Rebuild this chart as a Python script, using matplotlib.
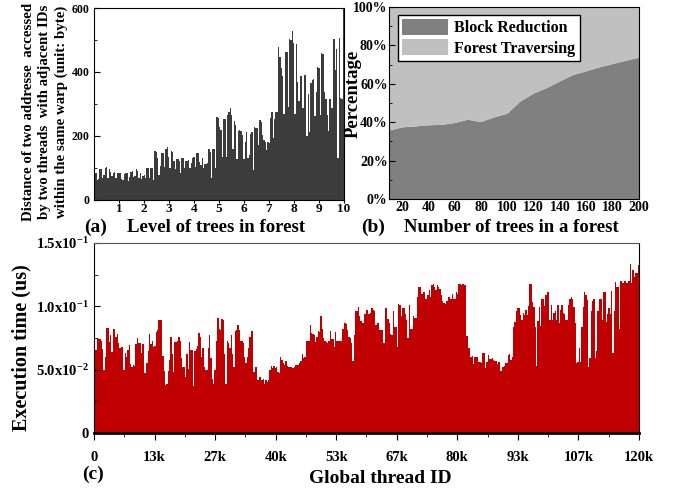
import numpy as np
import matplotlib
matplotlib.use("Agg")
import matplotlib.pyplot as plt
from matplotlib.ticker import MultipleLocator, FixedLocator

plt.rcParams['font.family'] = ['Liberation Serif', 'DejaVu Serif']
plt.rcParams['font.weight'] = 'bold'
plt.rcParams['mathtext.fontset'] = 'custom'
plt.rcParams['mathtext.rm'] = 'Liberation Serif:bold'
plt.rcParams['mathtext.bf'] = 'Liberation Serif:bold'
plt.rcParams['mathtext.default'] = 'bf'

# (a) address distance per thread pair, level 0..10
dist_a = [92, 83, 62, 66, 96, 96, 70, 78, 101, 102, 68, 97, 88, 75, 83, 86, 68, 83, 85, 85,
          66, 62, 80, 83, 83, 59, 73, 88, 91, 71, 76, 96, 92, 70, 83, 66, 76, 78, 70, 101,
          101, 68, 99, 99, 62, 153, 149, 130, 78, 107, 148, 148, 104, 159, 165, 135, 99, 154, 151, 122,
          97, 127, 128, 122, 83, 130, 130, 101, 122, 123, 125, 99, 117, 132, 133, 104, 146, 146, 120, 109,
          130, 101, 111, 111, 115, 158, 151, 68, 158, 158, 99, 260, 255, 229,
          218, 135, 252, 252, 135, 265, 276, 286, 265, 159, 247, 234, 127, 215, 218, 215, 203, 128, 180, 211,
          130, 140, 205, 211, 94, 229, 226, 226, 172, 250, 244, 203, 189, 182, 156, 182, 177, 257, 276, 193,
          252, 274, 274, 479, 447, 411, 388, 270, 463, 463, 291, 502, 501, 527, 492, 270, 486, 369, 309, 387,
          388, 286, 392, 392, 201, 330, 213, 366, 375, 378, 263, 336, 416, 411, 265, 458, 455, 336, 317, 265,
          216, 316, 286, 286, 504, 406, 473, 130, 507, 320, 317, 600]

# (b) share of block reduction vs forest traversing
n_trees = [10, 20, 30, 40, 50, 60, 70, 80, 90, 100, 110, 120, 130, 140, 150, 160, 170, 180, 190, 200]
block_reduction = [35.6, 37.3, 37.8, 38.4, 38.6, 39.6, 41.3, 40.1, 42.5, 44.4, 50.9, 54.9, 57.8, 61.3,
                   64.6, 66.5, 68.6, 70.3, 72.0, 73.6]
forest_traversing = [100 - v for v in block_reduction]

# (c) execution time per thread (x1e-2 us)
exec_c = [5.5, 6.55, 7.4, 7.4, 7.4, 7.3, 6.6, 5.0, 6.0, 8.3, 8.3, 7.2, 7.7, 6.4, 8.2, 8.2, 7.6, 7.8, 7.1, 6.7,
          6.8, 6.8, 5.0, 6.3, 6.0, 6.55, 6.95, 5.45, 5.2, 5.35, 5.3, 7.0, 7.5, 7.1, 7.1, 6.3, 7.0, 4.7, 4.7, 5.5,
          6.5, 7.8, 7.0, 7.3, 6.8, 6.9, 8.0, 8.1, 8.9, 8.9, 8.9, 6.1, 4.9, 3.8, 3.9, 4.9, 5.8, 7.6, 6.2, 4.8,
          7.2, 7.2, 7.3, 7.6, 7.3, 5.9, 5.2, 5.2,
          4.4, 6.2, 5.05, 7.2, 6.55, 6.55, 3.7, 6.5, 6.6, 6.9, 7.9, 7.6, 6.0, 6.7, 5.2, 5.0, 5.0, 6.7, 7.7, 5.9,
          4.3, 3.9, 5.0, 7.3, 9.05, 8.2, 8.1, 9.0, 8.9, 6.2, 3.9, 7.3, 7.1, 6.7, 7.7, 6.2, 5.2, 8.05, 8.1, 8.5,
          8.1, 7.3, 7.3, 7.1, 6.0, 5.55, 6.0, 6.7, 7.6, 8.05, 8.05, 4.85, 5.2, 5.2, 4.2, 4.45, 4.4, 4.2, 4.25, 3.9,
          4.2, 4.0, 4.2, 5.0, 5.3, 5.1, 5.3, 5.1,
          5.2, 4.85, 4.7, 6.0, 5.8, 5.5, 5.4, 5.7, 5.3, 5.2, 5.2, 5.2, 5.1, 5.2, 5.35, 5.35, 5.35, 5.55, 5.7, 6.2,
          5.9, 6.0, 7.3, 7.3, 7.3, 8.5, 7.9, 7.8, 7.7, 7.2, 7.6, 8.05, 8.0, 9.2, 8.2, 7.5, 7.3, 7.2, 7.1, 7.3,
          8.05, 7.4, 7.4, 6.8, 8.0, 7.3, 7.3, 7.3, 7.3, 8.2, 8.25, 8.7, 8.6, 8.1, 7.6, 7.5, 7.1, 5.7, 7.7, 9.6,
          9.6, 9.95, 9.2, 8.85, 8.7, 8.7, 9.4, 9.75,
          9.75, 9.4, 9.45, 9.9, 9.7, 9.6, 8.5, 8.65, 8.65, 8.1, 8.1, 8.1, 7.1, 9.9, 9.9, 9.0, 8.7, 7.8, 7.7, 9.6,
          8.35, 8.35, 6.8, 10.2, 10.1, 9.2, 9.9, 9.9, 9.4, 8.9, 7.5, 10.1, 8.2, 8.2, 9.2, 9.1, 9.05, 10.7, 11.5, 11.5,
          11.0, 11.0, 11.1, 10.6, 10.6, 10.9, 11.3, 10.75, 11.7, 11.75, 11.5, 11.3, 11.7, 11.5, 11.4, 10.9, 10.4, 10.3,
          10.15, 10.4, 10.7, 10.7, 10.55, 11.0, 10.55, 10.55, 11.1, 11.0,
          11.8, 11.75, 11.7, 11.8, 11.7, 11.7, 7.65, 6.75, 6.75, 6.0, 6.1, 5.45, 6.0, 6.0, 6.0, 5.6, 5.6, 5.55, 6.3, 6.3,
          5.15, 5.6, 6.15, 5.85, 5.85, 5.95, 5.75, 5.7, 5.7, 5.45, 5.6, 4.9, 4.9, 5.2, 5.3, 5.5, 5.5, 6.15, 6.25, 5.8,
          6.0, 8.4, 8.8, 9.65, 9.85, 9.85, 9.3, 8.9, 9.5, 9.3, 9.75, 9.3, 10.0, 11.75, 11.75, 10.35, 9.95, 8.35, 5.3, 8.85,
          9.95, 8.45, 10.6, 10.6, 10.05, 10.9, 11.1, 11.15,
          8.9, 10.1, 8.9, 9.45, 9.6, 8.9, 10.1, 8.7, 9.7, 10.1, 9.5, 9.4, 8.9, 8.9, 10.1, 10.6, 10.7, 10.55, 9.95, 8.7,
          5.5, 5.6, 6.75, 5.6, 8.4, 9.95, 11.1, 10.9, 10.5, 5.2, 5.95, 9.65, 10.4, 10.6, 5.95, 6.5, 9.6, 10.6, 10.6, 8.9,
          11.1, 11.1, 8.8, 9.4, 9.85, 9.4, 11.2, 6.3, 9.6, 11.95, 11.55, 11.55, 8.25, 12.0, 11.85, 11.85, 12.0, 11.85,
          11.85, 12.0, 13.35, 11.85, 12.9, 12.3, 12.65, 12.6, 13.25]

c_ticks = [0, 13333, 26667, 40000, 53333, 66667, 80000, 93333, 106667, 120000]
c_ticklabels = ['0', '13k', '27k', '40k', '53k', '67k', '80k', '93k', '107k', '120k']
c_yticklabels = ['0', r'5.0x10$^{-2}$', r'1.0x10$^{-1}$', r'1.5x10$^{-1}$']

fig = plt.figure(figsize=(6.79, 4.88), dpi=100)

# ---- (a)
ax1 = fig.add_axes([0.1384, 0.5902, 0.3682, 0.3934])
na = len(dist_a)
step_a = 10.0 / na
xa = (np.arange(na) + 0.5) * step_a
ax1.bar(xa, dist_a, width=step_a, color='#3c3c3c', linewidth=0)
ax1.set_xlim(0, 10)
ax1.set_ylim(0, 600)
ax1.set_xticks(range(1, 11))
ax1.set_yticks([0, 200, 400, 600])
ax1.yaxis.set_minor_locator(MultipleLocator(100))
ax1.tick_params(axis='y', which='both', direction='in', labelsize=8.5, pad=3)
ax1.tick_params(axis='y', which='major', length=4)
ax1.tick_params(axis='y', which='minor', length=2)
ax1.tick_params(axis='x', direction='out', length=2, labelsize=9.5, pad=0.5)
fig.text(0.066, 0.770, "Distance of two addresse  accessed\nby two threads  with adjacent IDs\nwithin the same warp (unit: byte)",
         rotation=90, ha='center', va='center', fontsize=10.7, fontweight='bold',
         multialignment='center', linespacing=1.35)
fig.text(0.141, 0.534, "(a)", ha='center', va='center', fontsize=14, fontweight='bold')
fig.text(0.318, 0.534, "Level of trees in forest", ha='center', va='center', fontsize=13.5, fontweight='bold')

# ---- (b)
ax2 = fig.add_axes([0.5729, 0.5922, 0.3682, 0.3934])
ax2.stackplot(n_trees, block_reduction, forest_traversing, colors=['#808080', '#c0c0c0'],
              labels=['Block Reduction', 'Forest Traversing'], linewidth=0)
ax2.set_xlim(10, 200)
ax2.set_ylim(0, 100)
ax2.set_xticks(range(20, 201, 20))
ax2.set_yticks(range(0, 101, 20))
ax2.set_yticklabels(['%d%%' % v for v in range(0, 101, 20)])
ax2.yaxis.set_minor_locator(MultipleLocator(10))
ax2.tick_params(axis='both', which='both', direction='in', labelsize=10)
ax2.tick_params(axis='y', which='major', length=4, pad=1)
ax2.tick_params(axis='y', which='minor', length=2)
ax2.tick_params(axis='x', length=0, pad=1.5)
leg = ax2.legend(loc='upper left', bbox_to_anchor=(0.035, 0.96), fontsize=11.5, frameon=True,
                 fancybox=False, edgecolor='black', framealpha=1, handlelength=2.9, handleheight=1.15,
                 borderpad=0.25, labelspacing=0.2, handletextpad=0.4, borderaxespad=0)
leg.get_frame().set_linewidth(1.0)
fig.text(0.520, 0.807, "Percentage", rotation=90, ha='center', va='center', fontsize=13.5, fontweight='bold')
fig.text(0.549, 0.534, "(b)", ha='center', va='center', fontsize=14, fontweight='bold')
fig.text(0.7536, 0.534, "Number of trees in a forest", ha='center', va='center', fontsize=13.5, fontweight='bold')

# ---- (c)
ax3 = fig.add_axes([0.1384, 0.1127, 0.8027, 0.3893])
nc = len(exec_c)
step_c = 120000.0 / nc
xc = (np.arange(nc) + 0.5) * step_c
ax3.bar(xc, np.array(exec_c) * 1e-2, width=step_c, color='#c00000', linewidth=0)
ax3.set_xlim(0, 120000)
ax3.set_ylim(0, 0.15)
ax3.set_xticks(c_ticks)
ax3.set_xticklabels(c_ticklabels)
ax3.xaxis.set_minor_locator(FixedLocator([(c_ticks[i] + c_ticks[i + 1]) / 2 for i in range(len(c_ticks) - 1)]))
ax3.set_yticks([0, 0.05, 0.10, 0.15])
ax3.set_yticklabels(c_yticklabels)
ax3.yaxis.set_minor_locator(MultipleLocator(0.025))
ax3.tick_params(axis='y', which='both', direction='in', labelsize=10.5, pad=4)
ax3.tick_params(axis='y', which='major', length=4)
ax3.tick_params(axis='y', which='minor', length=3)
ax3.tick_params(axis='x', which='major', direction='out', length=5, labelsize=10.5, pad=8)
ax3.tick_params(axis='x', which='minor', direction='out', length=3)
ax3.spines['bottom'].set_linewidth(2)
ax3.spines['top'].set_color('#555555')
fig.text(0.031, 0.287, "Execution time (us)", rotation=90, ha='center', va='center', fontsize=14.5, fontweight='bold')
fig.text(0.137, 0.028, "(c)", ha='center', va='center', fontsize=14, fontweight='bold')
fig.text(0.5594, 0.020, "Global thread ID", ha='center', va='center', fontsize=14, fontweight='bold')

fig.savefig("out.png", dpi=100)
